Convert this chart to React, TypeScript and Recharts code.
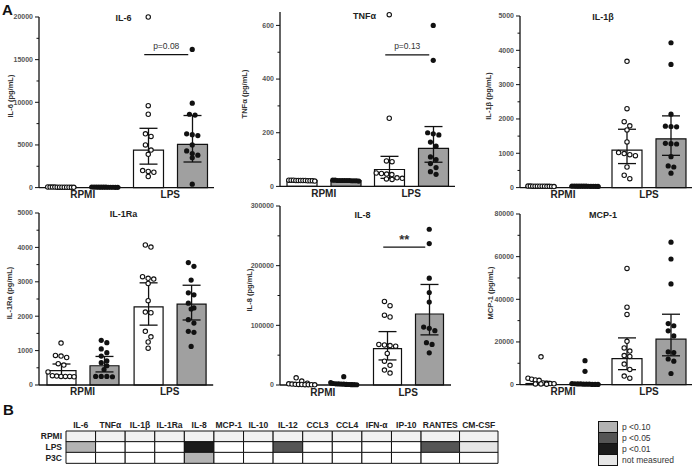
import React from "react";
import {
  ComposedChart,
  BarChart,
  Bar,
  Scatter,
  XAxis,
  YAxis,
  ErrorBar,
  ReferenceLine,
  Cell,
} from "recharts";

const groups = ["RPMI", "LPS"];

// IL-6
const il6RpmiOpen = [60, 50, 40, 70, 30, 50, 60, 40, 50, 30, 60, 40];
const il6RpmiFilled = [50, 40, 60, 30, 50, 70, 40, 50, 60, 30, 40, 50];
const il6LpsOpen = [20000, 9600, 8600, 6300, 6000, 5000, 4400, 3900, 2000, 1900, 1800, 1300];
const il6LpsFilled = [16200, 9900, 8600, 8500, 6300, 6200, 6100, 5000, 4300, 4000, 3800, 3500, 400];
const il6MedOpen = [50, 4400];
const il6MedFilled = [50, 5060];
const il6RangeOpen = [[30, 70], [2750, 6950]];
const il6RangeFilled = [[30, 70], [3000, 8450]];

// TNFa
const tnfRpmiOpen = [22, 21, 23, 22, 20, 22, 23, 21, 22, 22, 21, 23];
const tnfRpmiFilled = [21, 22, 22, 23, 20, 22, 21, 22, 23, 22, 21, 22];
const tnfLpsOpen = [640, 254, 95, 92, 50, 48, 46, 44, 30, 28, 26, 32];
const tnfLpsFilled = [600, 470, 200, 196, 192, 165, 150, 110, 100, 85, 70, 55, 45];
const tnfMedOpen = [22, 63];
const tnfMedFilled = [22, 142];
const tnfRangeOpen = [[20, 24], [30, 112]];
const tnfRangeFilled = [[20, 24], [90, 223]];

// IL-1b
const il1bRpmiOpen = [40, 35, 45, 40, 30, 42, 38, 44, 40, 36, 41, 39];
const il1bRpmiFilled = [38, 42, 40, 35, 44, 40, 39, 41, 37, 43, 40, 36];
const il1bLpsOpen = [3680, 2300, 1920, 1800, 1680, 1330, 1020, 990, 960, 930, 600, 360, 260];
const il1bLpsFilled = [4220, 3590, 2140, 1790, 1780, 1770, 1290, 1280, 1270, 900, 630, 600, 420];
const il1bMedOpen = [40, 1090];
const il1bMedFilled = [40, 1420];
const il1bRangeOpen = [[30, 50], [700, 1700]];
const il1bRangeFilled = [[30, 50], [940, 2090]];

// IL-1Ra
const il1raRpmiOpen = [1220, 860, 840, 800, 620, 580, 380, 270, 260, 250, 250, 240, 250];
const il1raRpmiFilled = [1300, 1230, 1050, 940, 840, 700, 650, 560, 450, 250, 250, 240, 250];
const il1raLpsOpen = [4070, 4010, 3150, 3100, 3080, 2950, 2450, 2120, 2100, 1560, 1400, 1250, 1070];
const il1raLpsFilled = [3560, 3450, 3050, 2680, 2620, 2380, 2240, 2210, 1900, 1800, 1560, 1530, 1120];
const il1raMedOpen = [420, 2270];
const il1raMedFilled = [560, 2350];
const il1raRangeOpen = [[260, 610], [1740, 2970]];
const il1raRangeFilled = [[380, 830], [1890, 2900]];

// IL-8
const il8RpmiOpen = [12000, 6500, 3000, 2000, 1500, 1200, 1000, 800, 600, 500, 400, 300];
const il8RpmiFilled = [14000, 4000, 2500, 2000, 1800, 1500, 1300, 1000, 800, 600, 500, 400];
const il8LpsOpen = [140000, 133000, 117000, 114000, 68000, 67000, 66000, 65000, 53000, 40000, 33000, 25000, 20000];
const il8LpsFilled = [261000, 237000, 179000, 155000, 139000, 97000, 95000, 91000, 71000, 68000, 54000];
const il8MedOpen = [1500, 61000];
const il8MedFilled = [1800, 119000];
const il8RangeOpen = [[800, 3000], [42000, 89500]];
const il8RangeFilled = [[1000, 3500], [84000, 168500]];

// MCP-1
const mcpRpmiOpen = [13000, 3000, 2500, 2200, 2000, 800, 600, 500, 400, 300, 300, 200];
const mcpRpmiFilled = [11200, 6200, 500, 400, 300, 300, 200, 200, 200, 100, 100, 100];
const mcpLpsOpen = [54500, 36300, 32900, 20300, 17200, 15700, 13600, 13200, 9600, 7100, 4000, 3000];
const mcpLpsFilled = [66800, 58900, 47200, 28600, 27600, 25200, 22800, 15300, 15000, 12000, 11000, 5200];
const mcpMedOpen = [500, 12200];
const mcpMedFilled = [300, 21300];
const mcpRangeOpen = [[200, 1500], [7000, 21900]];
const mcpRangeFilled = [[100, 600], [13500, 33000]];

// heatmap (panel B)
const cytokines = ["IL-6", "TNFα", "IL-1β", "IL-1Ra", "IL-8", "MCP-1", "IL-10", "IL-12", "CCL3", "CCL4", "IFN-α", "IP-10", "RANTES", "CM-CSF"];
const stimuli = ["RPMI", "LPS", "P3C"];
const rpmiLevels = ["ref", "ref", "ref", "ref", "ref", "ref", "ref", "ref", "ref", "ref", "ref", "ref", "ref", "ref"];
const lpsLevels = ["p10", "ns", "ns", "ns", "p01", "ns", "ns", "p05", "ns", "ns", "ns", "ns", "p05", "nm"];
const p3cLevels = ["ns", "ns", "ns", "ns", "p10", "ns", "ns", "ns", "ns", "ns", "ns", "ns", "ns", "ns"];
const legendItems = ["p <0.10", "p <0.05", "p <0.01", "not measured"];
const legendLevels = ["p10", "p05", "p01", "nm"];

const levelColor: Record<string, string> = {
  ref: "#f1f1f1",
  ns: "#ffffff",
  p10: "#b3b3b3",
  p05: "#555555",
  p01: "#1b1b1b",
  nm: "#e6e6e6",
};

const FONT = "'Liberation Sans', Arial, sans-serif";

type PanelData = {
  title: string;
  yLabel: string;
  max: number;
  ticks: number[];
  open: number[][];
  filled: number[][];
  medOpen: number[];
  medFilled: number[];
  rangeOpen: number[][];
  rangeFilled: number[][];
  sig?: { y: number; text: string; stars?: boolean };
};

type Geo = { axisX: number; top: number; zero: number; right: number; barSize: number; ylab: number; titleDy: number };

const panels: PanelData[] = [
  { title: "IL-6", yLabel: "IL-6 (pg/mL)", max: 20000, ticks: [0, 5000, 10000, 15000, 20000], open: [il6RpmiOpen, il6LpsOpen], filled: [il6RpmiFilled, il6LpsFilled], medOpen: il6MedOpen, medFilled: il6MedFilled, rangeOpen: il6RangeOpen, rangeFilled: il6RangeFilled, sig: { y: 15600, text: "p=0.08" } },
  { title: "TNFα", yLabel: "TNFα (pg/mL)", max: 650, ticks: [0, 200, 400, 600], open: [tnfRpmiOpen, tnfLpsOpen], filled: [tnfRpmiFilled, tnfLpsFilled], medOpen: tnfMedOpen, medFilled: tnfMedFilled, rangeOpen: tnfRangeOpen, rangeFilled: tnfRangeFilled, sig: { y: 490, text: "p=0.13" } },
  { title: "IL-1β", yLabel: "IL-1β (pg/mL)", max: 5000, ticks: [0, 1000, 2000, 3000, 4000, 5000], open: [il1bRpmiOpen, il1bLpsOpen], filled: [il1bRpmiFilled, il1bLpsFilled], medOpen: il1bMedOpen, medFilled: il1bMedFilled, rangeOpen: il1bRangeOpen, rangeFilled: il1bRangeFilled },
  { title: "IL-1Ra", yLabel: "IL-1Ra (pg/mL)", max: 5000, ticks: [0, 1000, 2000, 3000, 4000, 5000], open: [il1raRpmiOpen, il1raLpsOpen], filled: [il1raRpmiFilled, il1raLpsFilled], medOpen: il1raMedOpen, medFilled: il1raMedFilled, rangeOpen: il1raRangeOpen, rangeFilled: il1raRangeFilled },
  { title: "IL-8", yLabel: "IL-8 (pg/mL)", max: 300000, ticks: [0, 100000, 200000, 300000], open: [il8RpmiOpen, il8LpsOpen], filled: [il8RpmiFilled, il8LpsFilled], medOpen: il8MedOpen, medFilled: il8MedFilled, rangeOpen: il8RangeOpen, rangeFilled: il8RangeFilled, sig: { y: 231000, text: "**", stars: true } },
  { title: "MCP-1", yLabel: "MCP-1 (pg/mL)", max: 80000, ticks: [0, 20000, 40000, 60000, 80000], open: [mcpRpmiOpen, mcpLpsOpen], filled: [mcpRpmiFilled, mcpLpsFilled], medOpen: mcpMedOpen, medFilled: mcpMedFilled, rangeOpen: mcpRangeOpen, rangeFilled: mcpRangeFilled },
];

const geos: Geo[] = [
  { axisX: 39, top: 16.7, zero: 187.3, right: 214, barSize: 30, ylab: 29, titleDy: 1 },
  { axisX: 280, top: 12.3, zero: 186.7, right: 455, barSize: 30, ylab: 36, titleDy: 4 },
  { axisX: 520, top: 15.7, zero: 187.3, right: 692, barSize: 30, ylab: 32, titleDy: 1 },
  { axisX: 39.3, top: 213.3, zero: 385.3, right: 213.5, barSize: 29, ylab: 30, titleDy: 1 },
  { axisX: 280, top: 206, zero: 385, right: 451, barSize: 28, ylab: 31, titleDy: 9 },
  { axisX: 520, top: 213.7, zero: 384.3, right: 692, barSize: 30, ylab: 30, titleDy: 1 },
];

// GraphPad-like scatter spread: points at similar heights are laid out in a row
function swarm(values: number[], max: number, plotH: number, center: number, pxPerUnit: number) {
  const d = 5.6;
  const maxOff = 13;
  const pts = values.map((v) => ({ v, py: plotH * (1 - v / max) })).sort((a, b) => a.py - b.py);
  const out: { x: number; y: number }[] = [];
  let i = 0;
  while (i < pts.length) {
    let j = i;
    while (j + 1 < pts.length && pts[j + 1].py - pts[i].py < d) j++;
    const n = j - i + 1;
    const s = n > 1 ? Math.min(d, (2 * maxOff) / (n - 1)) : 0;
    for (let k = 0; k < n; k++) {
      out.push({ x: center + ((k - (n - 1) / 2) * s) / pxPerUnit, y: pts[i + k].v });
    }
    i = j + 1;
  }
  return out;
}

const OpenDot = (p: any) => <circle cx={p.cx} cy={p.cy} r={2.2} fill="#fff" stroke="#111" strokeWidth={1.1} />;
const FilledDot = (p: any) => <circle cx={p.cx} cy={p.cy} r={2.6} fill="#111" />;

const CatTick = (p: any) => (
  <text x={p.x} y={p.y + 10.5} textAnchor="middle" fontSize={10} fontWeight="bold" fill="#222">
    {p.payload.value}
  </text>
);

const makeYTick = (major: number[]) => (p: any) => {
  const isMajor = major.includes(p.payload.value);
  return (
    <g>
      <line x1={p.x - (isMajor ? 4 : 2.5)} x2={p.x} y1={p.y} y2={p.y} stroke="#111" strokeWidth={1} />
      {isMajor && (
        <text x={p.x - 6} y={p.y + 2.4} textAnchor="end" fontSize={7} fontWeight="bold" fill="#555">
          {p.payload.value}
        </text>
      )}
    </g>
  );
};

function Panel({ p, g }: { p: PanelData; g: Geo }) {
  const plotW = g.right - g.axisX;
  const plotH = g.zero - g.top;
  const band = plotW / 2;
  const shift = (g.barSize + 14) / 2 / band;
  const rows = groups.map((grp, i) => ({
    group: grp,
    open: p.medOpen[i],
    filled: p.medFilled[i],
    openErr: [p.medOpen[i] - p.rangeOpen[i][0], p.rangeOpen[i][1] - p.medOpen[i]],
    filledErr: [p.medFilled[i] - p.rangeFilled[i][0], p.rangeFilled[i][1] - p.medFilled[i]],
  }));
  const openPts = groups.flatMap((_, i) => swarm(p.open[i], p.max, plotH, i + 0.5 - shift, band));
  const filledPts = groups.flatMap((_, i) => swarm(p.filled[i], p.max, plotH, i + 0.5 + shift, band));
  const step = p.ticks[1] - p.ticks[0];
  const allTicks: number[] = [];
  for (let t = 0; t <= p.max + 1e-9; t += step / 2) allTicks.push(t);
  const sigNudge = 4 / band;

  return (
    <>
      <div style={{ position: "absolute", left: g.axisX - 45, top: g.top - 10 }}>
        <ComposedChart
          width={plotW + 47}
          height={plotH + 30}
          data={rows}
          margin={{ top: 10, right: 2, bottom: 0, left: 0 }}
          barGap={14}
          barSize={g.barSize}
        >
          <XAxis
            xAxisId="cat"
            dataKey="group"
            type="category"
            height={20}
            tickLine={false}
            tickSize={0}
            tickMargin={0}
            axisLine={{ stroke: "#111", strokeWidth: 1.3 }}
            tick={CatTick}
          />
          <XAxis xAxisId="pts" dataKey="x" type="number" domain={[0, 2]} hide />
          <YAxis
            type="number"
            domain={[0, p.max]}
            ticks={allTicks}
            interval={0}
            width={45}
            tickSize={0}
            tickMargin={0}
            tickLine={false}
            axisLine={{ stroke: "#111", strokeWidth: 1.3 }}
            tick={makeYTick(p.ticks)}
          />
          <Bar xAxisId="cat" dataKey="open" fill="#fff" stroke="#111" strokeWidth={1.2} isAnimationActive={false}>
            <ErrorBar dataKey="openErr" width={9} stroke="#111" strokeWidth={1.3} direction="y" />
          </Bar>
          <Bar xAxisId="cat" dataKey="filled" fill="#a0a0a0" stroke="#111" strokeWidth={1.2} isAnimationActive={false}>
            <ErrorBar dataKey="filledErr" width={9} stroke="#111" strokeWidth={1.3} direction="y" />
          </Bar>
          <Scatter xAxisId="pts" data={openPts} dataKey="y" shape={OpenDot} isAnimationActive={false} />
          <Scatter xAxisId="pts" data={filledPts} dataKey="y" shape={FilledDot} isAnimationActive={false} />
          {p.sig && (
            <ReferenceLine
              xAxisId="pts"
              segment={[
                { x: 1.5 - shift - sigNudge, y: p.sig.y },
                { x: 1.5 + shift - sigNudge, y: p.sig.y },
              ]}
              stroke="#111"
              strokeWidth={1.2}
              label={{
                value: p.sig.text,
                position: "top",
                offset: p.sig.stars ? 3 : 6,
                fontSize: p.sig.stars ? 13 : 8.5,
                fontWeight: p.sig.stars ? "bold" : "normal",
                fill: "#333",
              }}
            />
          )}
        </ComposedChart>
      </div>
      <div
        style={{
          position: "absolute",
          left: g.axisX + plotW / 2 - 3,
          top: g.top + g.titleDy,
          transform: "translate(-50%, -50%)",
          fontSize: 9,
          fontWeight: "bold",
          color: "#222",
          whiteSpace: "nowrap",
        }}
      >
        {p.title}
      </div>
      <div
        style={{
          position: "absolute",
          left: g.axisX - g.ylab,
          top: g.top + plotH / 2 - 6,
          transform: "translate(-50%, -50%) rotate(-90deg)",
          fontSize: 7.5,
          fontWeight: "bold",
          color: "#333",
          whiteSpace: "nowrap",
        }}
      >
        {p.yLabel}
      </div>
    </>
  );
}

const wideCols = new Set(["RANTES", "CM-CSF"]);

function Heatmap() {
  const units = cytokines.map((c) => (wideCols.has(c) ? 1.3 : 1));
  const total = units.reduce((a, b) => a + b, 0);
  const centers: number[] = [];
  let acc = 0;
  units.forEach((u) => {
    centers.push(acc + u / 2);
    acc += u;
  });
  const levels = [rpmiLevels, lpsLevels, p3cLevels];
  const data = stimuli.map((s) => {
    const row: Record<string, any> = { row: s };
    cytokines.forEach((c, i) => (row[c] = units[i]));
    return row;
  });
  const nameAt = (v: number) => {
    const i = centers.findIndex((c) => Math.abs(c - v) < 1e-6);
    return i >= 0 ? cytokines[i] : "";
  };
  return (
    <div style={{ position: "absolute", left: 21, top: 416 }}>
      <BarChart
        width={45 + 432 + 2}
        height={15 + 32 + 1}
        data={data}
        layout="vertical"
        margin={{ top: 0, right: 2, bottom: 1, left: 0 }}
        barCategoryGap={0}
      >
        <XAxis
          type="number"
          orientation="top"
          domain={[0, total]}
          ticks={centers}
          interval={0}
          tickFormatter={nameAt}
          axisLine={false}
          tickLine={false}
          tickSize={0}
          tickMargin={3}
          height={15}
          tick={{ fontSize: 8.5, fontWeight: "bold", fill: "#222" }}
        />
        <YAxis
          type="category"
          dataKey="row"
          width={45}
          interval={0}
          axisLine={false}
          tickLine={false}
          tickSize={0}
          tickMargin={4}
          tick={{ fontSize: 8.5, fontWeight: "bold", fill: "#222" }}
        />
        {cytokines.map((c, ci) => (
          <Bar key={c} dataKey={c} stackId="h" stroke="#111" strokeWidth={1} isAnimationActive={false}>
            {stimuli.map((s, ri) => (
              <Cell key={s} fill={levelColor[levels[ri][ci]]} />
            ))}
          </Bar>
        ))}
      </BarChart>
    </div>
  );
}

export default function App() {
  return (
    <div
      style={{
        position: "absolute",
        left: 0,
        top: 0,
        width: 694,
        height: 470,
        background: "#fff",
        fontFamily: FONT,
        overflow: "hidden",
      }}
    >
      <div style={{ position: "absolute", left: 2, top: 1, fontSize: 15, fontWeight: "bold", color: "#111" }}>A</div>
      <div style={{ position: "absolute", left: 3, top: 401, fontSize: 15, fontWeight: "bold", color: "#111" }}>B</div>
      {panels.map((p, i) => (
        <Panel key={p.title} p={p} g={geos[i]} />
      ))}
      <Heatmap />
      {legendItems.map((t, i) => (
        <React.Fragment key={t}>
          <div
            style={{
              position: "absolute",
              left: 598,
              top: 421 + i * 11,
              width: 20,
              height: 12,
              boxSizing: "border-box",
              border: "1px solid #111",
              background: levelColor[legendLevels[i]],
            }}
          />
          <div style={{ position: "absolute", left: 622, top: 421 + i * 11, fontSize: 8.5, color: "#333", lineHeight: "12px" }}>
            {t}
          </div>
        </React.Fragment>
      ))}
    </div>
  );
}
